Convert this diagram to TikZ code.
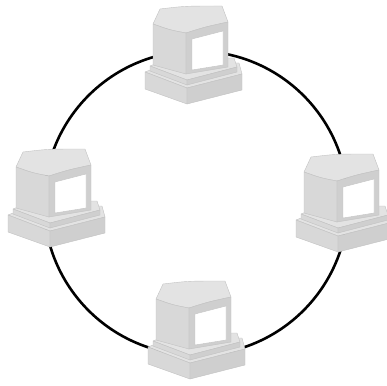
\documentclass[tikz,border=0pt]{standalone}
\definecolor{topgray}{HTML}{E3E3E3}
\definecolor{leftgray}{HTML}{D8D8D8}
\definecolor{frontgray}{HTML}{CFCFCF}
\definecolor{edgegray}{HTML}{C2C2C2}
\begin{document}
\begin{tikzpicture}[x=1pt,y=-1pt,
  ring/.style={line width=2.6pt,black},
  face/.style={draw=edgegray,line width=0.4pt,line join=round},
  topface/.style={face,fill=topgray},
  leftface/.style={face,fill=leftgray},
  frontface/.style={face,fill=frontgray},
  screen/.style={face,fill=white},
  computer/.pic={
    % lower slab of the base
    \path[topface]   (5,72) -- (28,63) -- (99,63) -- (102,74) -- (47,88) -- cycle;
    \path[leftface]  (5,72) -- (47,88) -- (47,104) -- (5,89) -- cycle;
    \path[frontface] (47,88) -- (102,74) -- (102,90) -- (47,104) -- cycle;
    % upper slab of the base
    \path[topface]   (10,66) -- (30,58) -- (94,58) -- (97,67) -- (47,80) -- cycle;
    \path[leftface]  (10,66) -- (47,80) -- (47,85) -- (10,71) -- cycle;
    \path[frontface] (47,80) -- (97,67) -- (97,72) -- (47,85) -- cycle;
    % monitor
    \path[topface]   (13,24) -- (20,9) .. controls (45,6) .. (82,6) -- (88,22) .. controls (65,27) .. (46,33) .. controls (30,30) .. (13,24) -- cycle;
    \path[leftface]  (13,24) .. controls (30,30) .. (46,33) -- (46,74) -- (13,65) -- cycle;
    \path[frontface] (46,33) .. controls (65,27) .. (88,22) -- (88,67) -- (46,74) -- cycle;
    \path[screen]    (52,39) -- (83,31) -- (83,65) -- (52,70) -- cycle;
  }]
\useasboundingbox (0,0) rectangle (387,385);
% the ring cable
\coordinate (ringc) at (196,203);
\draw[ring] (ringc) circle[radius=152];
% the four stations on the ring
\pic (north) at (140,0)   {computer};
\pic (west)  at (3,143)   {computer};
\pic (east)  at (291,148) {computer};
\pic (south) at (143,275) {computer};
\end{tikzpicture}
\end{document}
